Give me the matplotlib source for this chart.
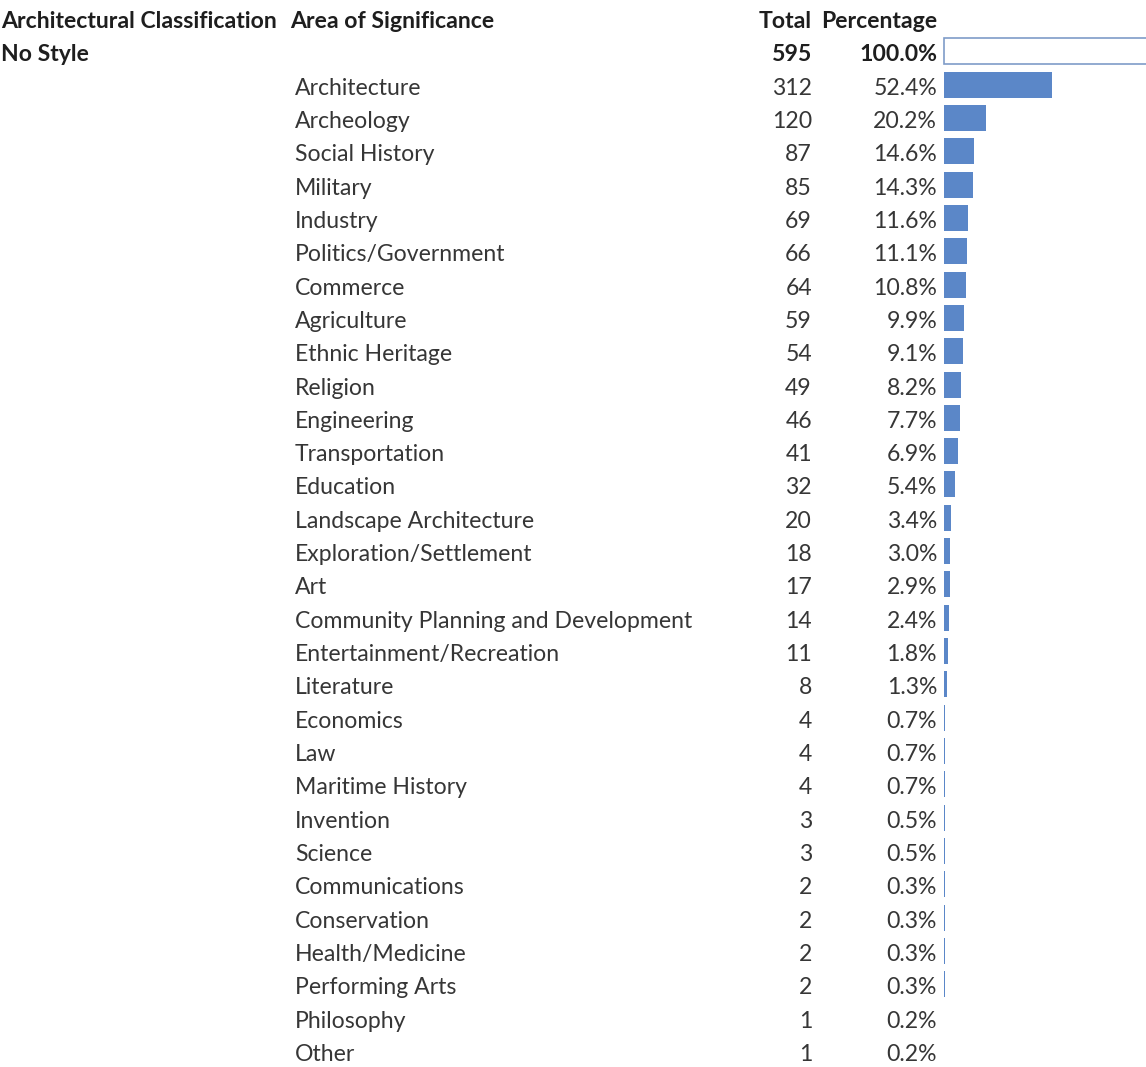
import matplotlib
matplotlib.use("Agg")
import matplotlib.pyplot as plt

categories = ["Architecture", "Archeology", "Social History", "Military", "Industry",
              "Politics/Government", "Commerce", "Agriculture", "Ethnic Heritage", "Religion",
              "Engineering", "Transportation", "Education", "Landscape Architecture",
              "Exploration/Settlement", "Art", "Community Planning and Development",
              "Entertainment/Recreation", "Literature", "Economics", "Law", "Maritime History",
              "Invention", "Science", "Communications", "Conservation", "Health/Medicine",
              "Performing Arts", "Philosophy", "Other"]
totals = [312, 120, 87, 85, 69, 66, 64, 59, 54, 49, 46, 41, 32, 20, 18, 17, 14, 11, 8,
          4, 4, 4, 3, 3, 2, 2, 2, 2, 1, 1]
percents = [52.4, 20.2, 14.6, 14.3, 11.6, 11.1, 10.8, 9.9, 9.1, 8.2, 7.7, 6.9, 5.4, 3.4,
            3.0, 2.9, 2.4, 1.8, 1.3, 0.7, 0.7, 0.7, 0.5, 0.5, 0.3, 0.3, 0.3, 0.3, 0.2, 0.2]
group_label = "No Style"
group_total = 595
group_percent = 100.0
headers = ["Architectural Classification", "Area of Significance", "Total", "Percentage"]

W, H = 1146, 1067
fig = plt.figure(figsize=(W / 100, H / 100), dpi=100)
fig.patch.set_facecolor("white")

row0_px, row_step = 18.0, 33.32
ylim = ((H - row0_px) / row_step, -row0_px / row_step)
dy = 3.5 / row_step  # text baseline offset relative to bar centre

FONT = "Lato"
FS = 16.6
txt_col = "#363636"
hdr_col = "#1e1e1e"

ax = fig.add_axes([0, 0, 1, 1])
ax.set_xlim(0, W)
ax.set_ylim(*ylim)
ax.axis("off")

x_cls, x_area, x_cat, x_tot, x_pct = 1, 290, 295, 812, 937

def put(x, r, s, ha, bold=False):
    ax.text(x, r + dy, s, ha=ha, va="center", fontsize=FS,
            fontweight="bold" if bold else "normal",
            color=hdr_col if bold else txt_col, family=FONT)

# header row
put(x_cls, 0, headers[0], "left", True)
put(x_area, 0, headers[1], "left", True)
put(x_tot, 0, headers[2], "right", True)
put(x_pct, 0, headers[3], "right", True)

# group row
put(x_cls, 1, group_label, "left", True)
put(x_tot, 1, f"{group_total}", "right", True)
put(x_pct, 1, f"{group_percent:.1f}%", "right", True)

rows = list(range(2, 2 + len(categories)))
for r, c, t, p in zip(rows, categories, totals, percents):
    put(x_cat, r, c, "left")
    put(x_tot, r, f"{t}", "right")
    put(x_pct, r, f"{p:.1f}%", "right")

# data bars
bx0 = 944
px_per_pct = 2.06
bax = fig.add_axes([bx0 / W, 0, (W - bx0) / W, 1])
bax.set_xlim(0, (W - bx0) / px_per_pct)
bax.set_ylim(*ylim)
bax.axis("off")
bar_h = 26 / row_step
bax.barh([1], [group_percent], height=bar_h, left=0, color="white",
         edgecolor="#7f9cc8", linewidth=1.2, clip_on=False)
bax.barh(rows, percents, height=bar_h, left=0, color="#5b87c8", edgecolor="none")

fig.savefig("out.png", dpi=100, facecolor="white")
